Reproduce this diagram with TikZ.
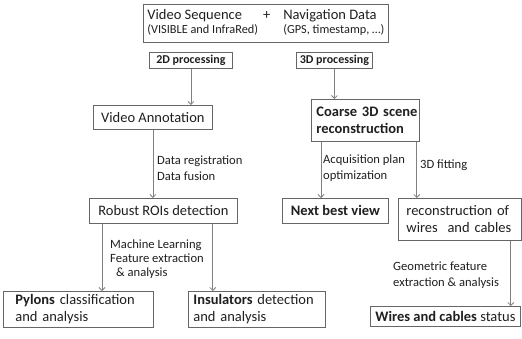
\documentclass[tikz,border=0pt]{standalone}
\usepackage{fontspec}
\setmainfont{Carlito}
\usetikzlibrary{arrows.meta}

\definecolor{boxline}{gray}{0.40}
\definecolor{arrline}{gray}{0.50}
\definecolor{txt}{gray}{0.12}

\newcommand{\bigtxt}{\fontsize{14.5}{17}\selectfont}
\newcommand{\smalltxt}{\fontsize{12.6}{16}\selectfont}
\newcommand{\tagtxt}{\fontsize{12}{14}\selectfont\bfseries}

\begin{document}
\begin{tikzpicture}[x=1pt,y=-1pt,
    arr/.style={draw=arrline,line width=0.8pt,-{Straight Barb[length=3pt,width=6pt]}}]
  \useasboundingbox (0,0) rectangle (522,338);

  \begin{scope}[every node/.style={draw=boxline,line width=0.8pt,rectangle,anchor=north west,
      inner sep=0pt,text=txt,font=\bigtxt}]
    \node[minimum width=245,minimum height=38] (input) at (143,4)
      {\begin{tabular}{@{}l@{\hspace{5pt}}c@{\hspace{13pt}}l@{}}
        Video Sequence & + & Navigation Data\\[-3pt]
        \fontsize{12.3}{16}\selectfont (VISIBLE and InfraRed) & & \fontsize{12.3}{16}\selectfont (GPS, timestamp, …)
       \end{tabular}};
    \node[minimum width=83,minimum height=16,font=\tagtxt] (p2d) at (149,52) {2D processing};
    \node[minimum width=76,minimum height=16,font=\tagtxt] (p3d) at (296,52) {3D processing};
    \node[minimum width=119,minimum height=24] (annot) at (93,105) {Video Annotation};
    \node[minimum width=148,minimum height=25] (rois) at (89,198) {Robust ROIs detection};
    \node[text width=126,inner xsep=12,minimum height=36,align=left] (pylons) at (3,291)
      {\textbf{Pylons} classification\\and analysis};
    \node[text width=127,inner xsep=5,minimum height=36,align=left] (insul) at (188,291)
      {\textbf{Insulators} detection\\and analysis};
    \node[text width=98,inner xsep=5,minimum height=42,align=left,font=\bigtxt\bfseries] (coarse) at (311,99)
      {\mbox{Coarse 3D scene}\\reconstruction};
    \node[minimum width=106,minimum height=25,font=\bigtxt\bfseries] (nbv) at (282,198)
      {Next best view};
    \node[text width=107,inner xsep=8,minimum height=42,align=left] (recon) at (398,198)
      {reconstruction of\\wires\ \ and cables};
    \node[minimum width=150,minimum height=20] (status) at (370,306)
      {\textbf{Wires and cables} status};
  \end{scope}

  \begin{scope}[every node/.style={anchor=west,inner sep=0pt,align=left,text=txt,font=\smalltxt}]
    \node (regfuse) at (157,168) {Data registration\\Data fusion};
    \node[font=\fontsize{12.6}{14}\selectfont] (mlfeat) at (110,259)
      {Machine Learning\\Feature extraction\\\hspace*{6pt}\& analysis};
    \node (acqopt) at (323,168) {Acquisition plan\\optimization};
    \node (fit3d) at (420,165) {3D fitting};
    \node (geom) at (393,275) {Geometric feature\\extraction \& analysis};
  \end{scope}

  \draw[arr] (p2d.south) -- (p2d.south |- annot.north);
  \draw[arr] (p3d.south) -- (p3d.south |- coarse.north);
  \draw[arr] (annot.south) -- (annot.south |- rois.north);
  \draw[arr] ([xshift=13]rois.south west) -- ([xshift=13]rois.south west |- pylons.north);
  \draw[arr] ([xshift=-25]rois.south east) -- ([xshift=-25]rois.south east |- insul.north);
  \draw[arr] ([xshift=10]coarse.south west) -- ([xshift=10]coarse.south west |- nbv.north);
  \draw[arr] ([xshift=-3]coarse.south east) -- ([xshift=-3]coarse.south east |- recon.north);
  \draw[arr] ([xshift=-11]recon.south east) -- ([xshift=-11]recon.south east |- status.north);

\end{tikzpicture}
\end{document}
